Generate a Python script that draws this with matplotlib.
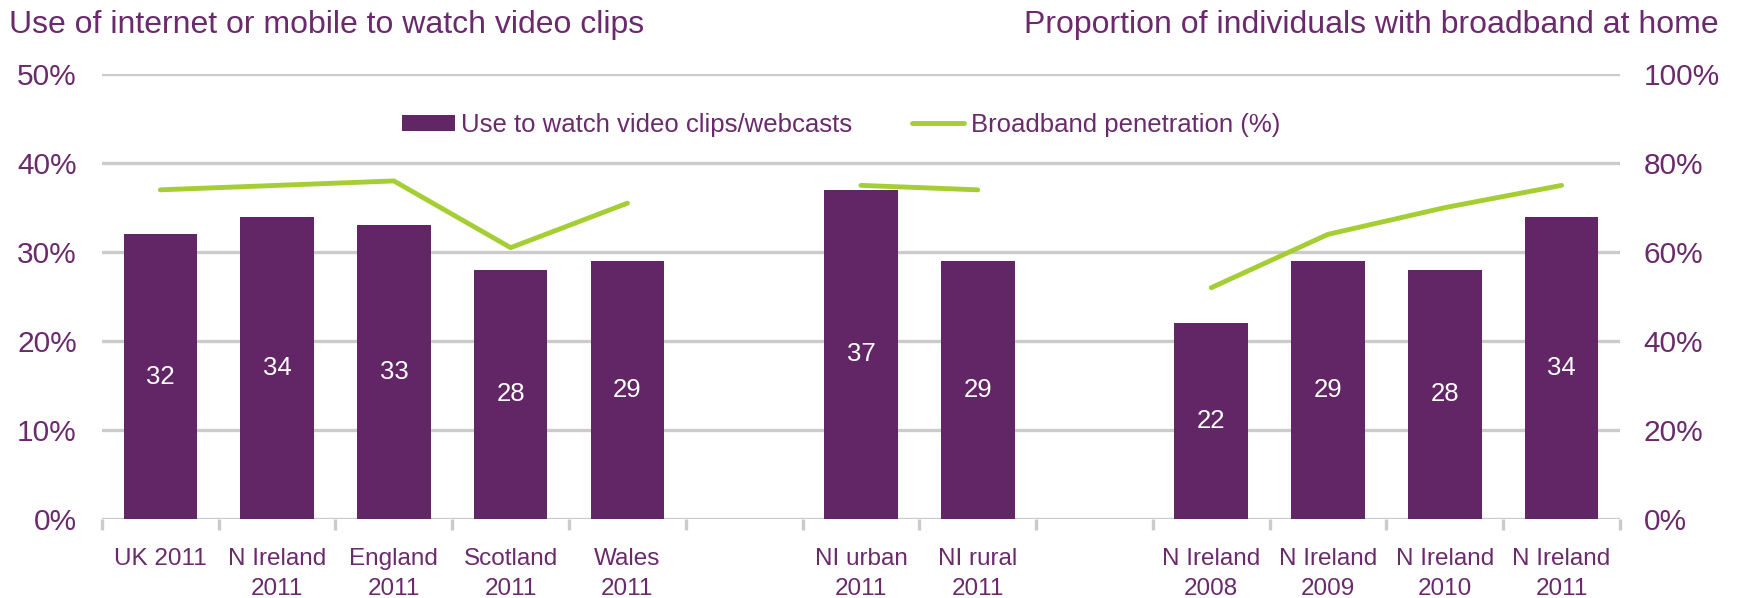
import numpy as np
import matplotlib
matplotlib.use('Agg')
import matplotlib.pyplot as plt

plt.rcParams['font.family'] = ['Liberation Sans', 'DejaVu Sans']

labels = ['UK 2011', 'N Ireland\n2011', 'England\n2011', 'Scotland\n2011', 'Wales\n2011',
          '', 'NI urban\n2011', 'NI rural\n2011', '',
          'N Ireland\n2008', 'N Ireland\n2009', 'N Ireland\n2010', 'N Ireland\n2011']
video = [32, 34, 33, 28, 29, np.nan, 37, 29, np.nan, 22, 29, 28, 34]
broadband = [74, 75, 76, 61, 71, np.nan, 75, 74, np.nan, 52, 64, 70, 75]

purple = '#622565'
text_purple = '#6A2A6C'
green = '#A5CE34'
grey = '#CBCBCB'

x = np.arange(len(labels))
video = np.array(video, dtype=float)
broadband = np.array(broadband, dtype=float)

fig = plt.figure(figsize=(17.4, 5.98), dpi=100)
ax = fig.add_axes([0.0586, 0.132, 0.8724, 0.744])
ax2 = ax.twinx()

ax.set_xlim(-0.5, len(labels) - 0.5)
ax.set_ylim(0, 50)
ax2.set_ylim(0, 100)

for v in range(0, 51, 10):
    ax.axhline(v, color=grey, lw=2.4, zorder=0)

mask = ~np.isnan(video)
bars = ax.bar(x[mask], video[mask], width=0.63, color=purple, zorder=2)
for xi, v in zip(x[mask], video[mask]):
    ax.text(xi, v / 2, f'{int(v)}', ha='center', va='center', color='white', fontsize=18.5)

ln, = ax2.plot(x, broadband, color=green, lw=3.5, solid_capstyle='round')

ax.set_yticks(range(0, 51, 10))
ax.set_yticklabels([f'{v}%' for v in range(0, 51, 10)])
ax2.set_yticks(range(0, 101, 20))
ax2.set_yticklabels([f'{v}%' for v in range(0, 101, 20)])
ax.tick_params(axis='y', length=0, pad=18, labelsize=21.5, labelcolor=text_purple)
ax2.tick_params(axis='y', length=0, pad=17, labelsize=21.5, labelcolor=text_purple)

ax.set_xticks(x)
ax.set_xticklabels(labels, linespacing=1.45)
ax.set_xticks(np.arange(-0.5, len(labels)), minor=True)
ax.tick_params(axis='x', which='major', length=0, pad=21, labelsize=17.5, labelcolor=text_purple)
ax.tick_params(axis='x', which='minor', length=8, width=2.4, color=grey, direction='out')

for a in (ax, ax2):
    for s in a.spines.values():
        s.set_visible(False)
ax2.set_zorder(ax.get_zorder() + 1)
ax2.patch.set_visible(False)

leg = ax.legend([bars, ln], ['Use to watch video clips/webcasts', 'Broadband penetration (%)'],
                loc='center', bbox_to_anchor=(0.487, 0.886), ncol=2, frameon=False,
                fontsize=18.5, handlelength=2.05, handleheight=0.55, columnspacing=2.3,
                handletextpad=0.25)
for t in leg.get_texts():
    t.set_color(text_purple)
leg.set_zorder(5)

fig.text(0.005, 0.945, 'Use of internet or mobile to watch video clips', fontsize=23,
         color=text_purple, ha='left', va='baseline')
fig.text(0.988, 0.945, 'Proportion of individuals with broadband at home', fontsize=23,
         color=text_purple, ha='right', va='baseline')

fig.savefig('out.png', dpi=100)
